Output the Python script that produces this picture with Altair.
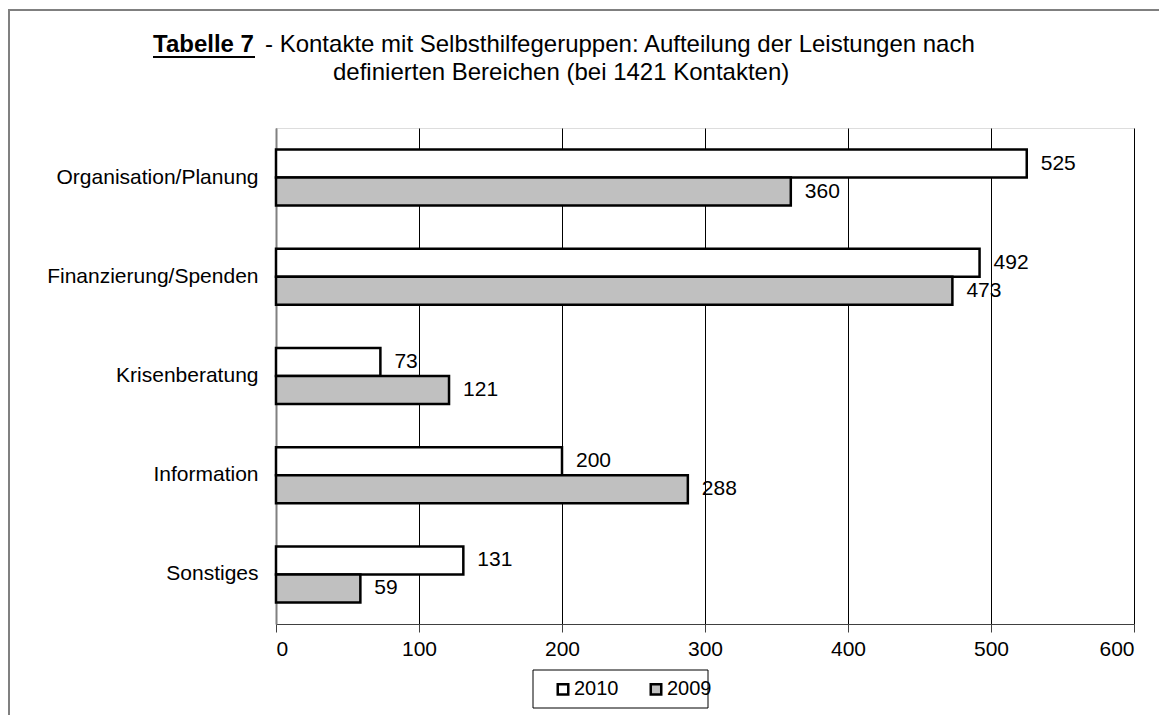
import altair as alt
import pandas as pd

categories = ["Organisation/Planung", "Finanzierung/Spenden", "Krisenberatung", "Information", "Sonstiges"]
years = ["2010", "2009"]
values_2010 = [525, 492, 73, 200, 131]
values_2009 = [360, 473, 121, 288, 59]
x_ticks = [0, 100, 200, 300, 400, 500, 600]

title_bold = "Tabelle 7"
title_line1 = "- Kontakte mit Selbsthilfegeruppen: Aufteilung der Leistungen nach"
title_line2 = "definierten Bereichen (bei 1421 Kontakten)"

rows = []
for c, a, b in zip(categories, values_2010, values_2009):
    rows.append({"Bereich": c, "Jahr": "2010", "Wert": a})
    rows.append({"Bereich": c, "Jahr": "2009", "Wert": b})
df = pd.DataFrame(rows)

FONT = "Liberation Sans"
W, H = 858, 496
PL, PT, PR, PB = 268, 120, 25, 91

y_enc = alt.Y(
    "Bereich:N",
    sort=categories,
    scale=alt.Scale(paddingInner=0.435, paddingOuter=0.2175),
    axis=alt.Axis(title=None, ticks=False, labelFontSize=21, labelPadding=18,
                  labelFont=FONT, labelColor="black", domainColor="#808080",
                  domainWidth=2, labelLimit=400),
)
yoff = alt.YOffset("Jahr:N", sort=years, scale=alt.Scale(domain=years))
x_enc = alt.X(
    "Wert:Q",
    scale=alt.Scale(domain=[0, 600], nice=False),
    axis=alt.Axis(values=x_ticks, title=None, grid=True,
                  gridColor={"condition": {"test": "datum.value === 0", "value": "#808080"}, "value": "black"},
                  gridWidth=1, tickSize=8, tickColor="#404040", domainColor="#404040",
                  labelFontSize=21, labelFont=FONT, labelColor="black", labelPadding=6),
)

bars = alt.Chart(df).mark_bar(stroke="black", strokeWidth=2.5).encode(
    y=y_enc,
    yOffset=yoff,
    x=x_enc,
    color=alt.Color(
        "Jahr:N",
        sort=years,
        scale=alt.Scale(domain=years, range=["white", "#c0c0c0"]),
        legend=alt.Legend(orient="none", legendX=277, legendY=551, direction="horizontal",
                          title=None, symbolType="square", symbolSize=110,
                          symbolStrokeColor="black", symbolStrokeWidth=2.5,
                          labelFontSize=20, labelFont=FONT, labelColor="black",
                          labelOffset=1, columnPadding=26, padding=0),
    ),
)

labels = alt.Chart(df).mark_text(align="left", baseline="middle", dx=14, fontSize=21,
                                 font=FONT, color="black").encode(
    y=alt.Y("Bereich:N", sort=categories),
    yOffset=alt.YOffset("Jahr:N", sort=years),
    x="Wert:Q",
    text="Wert:Q",
)

one = alt.Data(values=[{}])
TFS = 24
t_bold = alt.Chart(one).mark_text(align="left", baseline="alphabetic", fontSize=TFS, font=FONT,
                                  fontWeight="bold", color="black").encode(
    x=alt.value(-123), y=alt.value(-76), text=alt.value(title_bold))
t_rest = alt.Chart(one).mark_text(align="left", baseline="alphabetic", fontSize=TFS, font=FONT,
                                  color="black").encode(
    x=alt.value(-11), y=alt.value(-76), text=alt.value(title_line1))
t_line2 = alt.Chart(one).mark_text(align="left", baseline="alphabetic", fontSize=TFS, font=FONT,
                                   color="black").encode(
    x=alt.value(57), y=alt.value(-48), text=alt.value(title_line2))
underline = alt.Chart(one).mark_rule(color="black", strokeWidth=2).encode(
    x=alt.value(-123), x2=alt.value(-21), y=alt.value(-71))

legend_box = alt.Chart(one).mark_rect(fill="white", fillOpacity=0, stroke="black", strokeWidth=1).encode(
    x=alt.value(257), x2=alt.value(432), y=alt.value(542), y2=alt.value(580))

border_top = alt.Chart(one).mark_rule(color="black", strokeWidth=1).encode(
    x=alt.value(-268), x2=alt.value(900), y=alt.value(-118))
border_left = alt.Chart(one).mark_rule(color="#808080", strokeWidth=2).encode(
    x=alt.value(-267), y=alt.value(-118), y2=alt.value(620))

chart = alt.layer(
    legend_box, bars, labels, t_bold, t_rest, t_line2, underline, border_top, border_left
).properties(
    width=W, height=H,
    autosize=alt.AutoSizeParams(type="none"),
    padding={"left": PL, "top": PT, "right": PR, "bottom": PB},
).configure_view(stroke=None).configure(background="white")

chart.save("out.html", embed_options={"renderer": "svg", "actions": False})
